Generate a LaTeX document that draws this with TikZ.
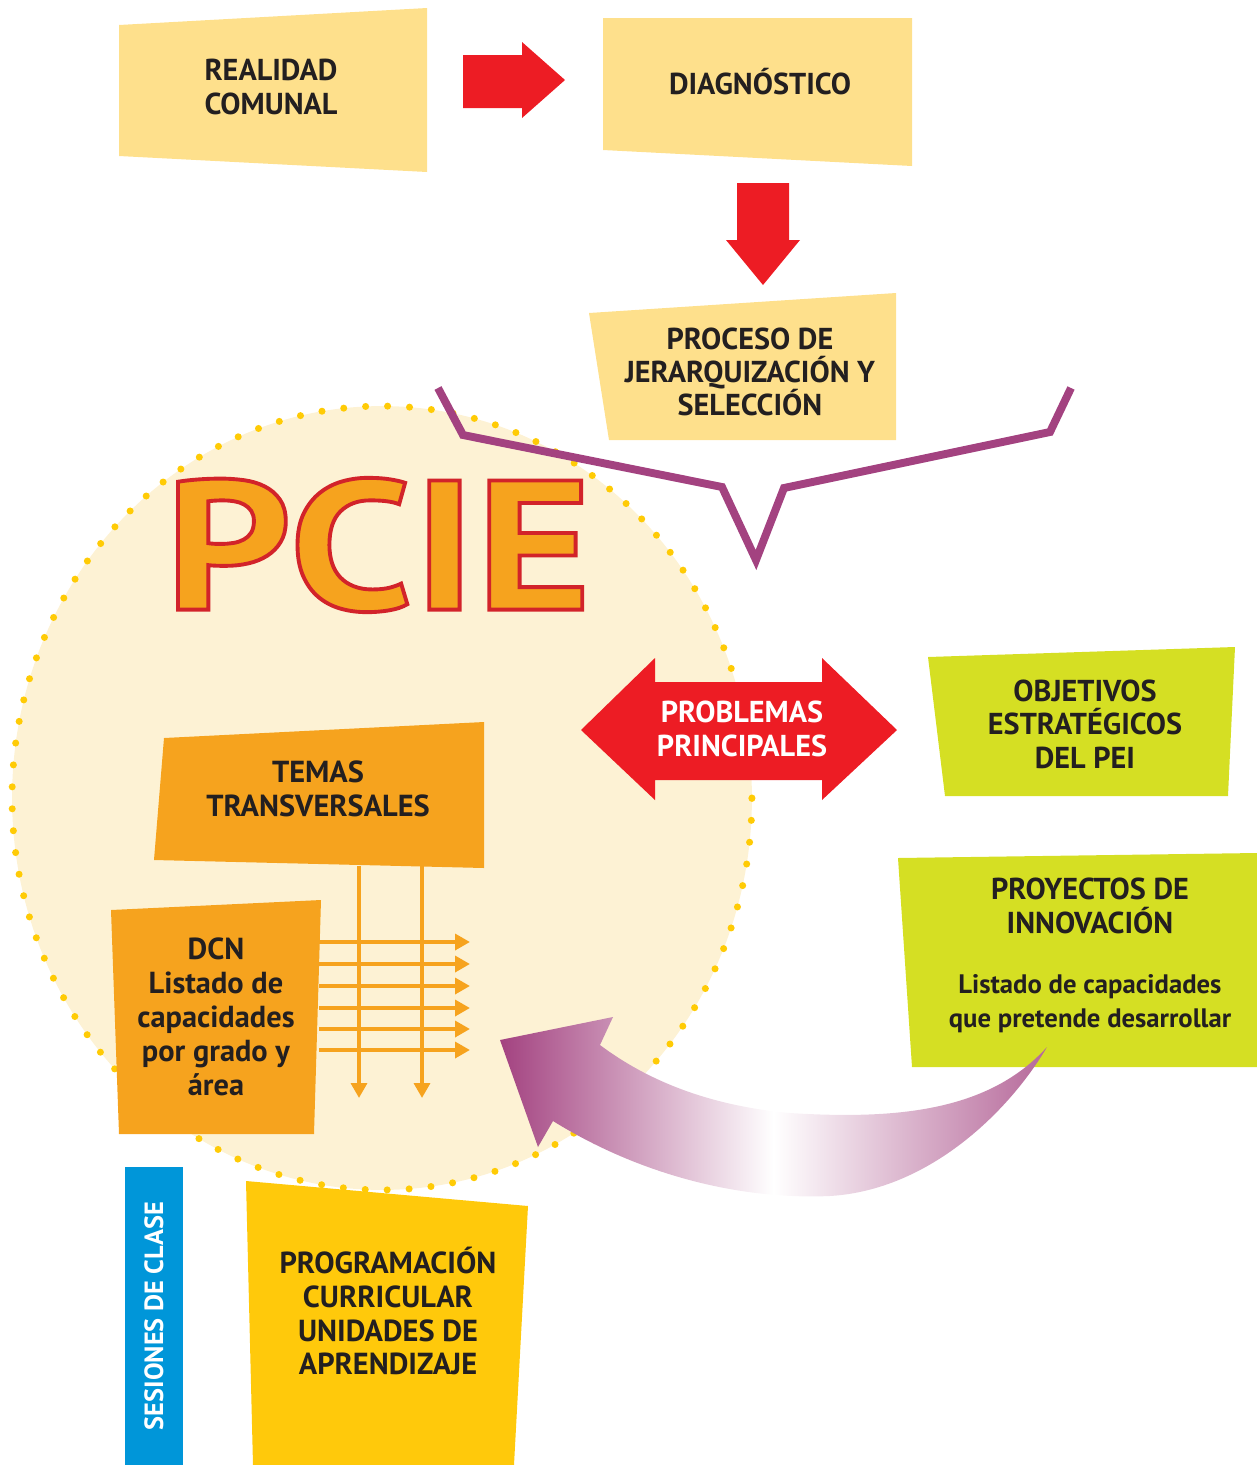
\documentclass[tikz,border=0pt]{standalone}
\usepackage{fontspec}
\setmainfont{PT Sans}
\newfontfamily\pciefont{PT Sans}[FakeStretch=1.2]
\usetikzlibrary{arrows.meta}
\definecolor{lyel}{RGB}{254,224,140}
\definecolor{cream}{RGB}{253,242,212}
\definecolor{dotc}{RGB}{255,203,5}
\definecolor{orng}{RGB}{246,163,30}
\definecolor{redA}{RGB}{237,28,36}
\definecolor{purp}{RGB}{163,66,128}
\definecolor{lime}{RGB}{213,223,35}
\definecolor{gold}{RGB}{255,201,11}
\definecolor{blueS}{RGB}{0,150,217}
\definecolor{txt}{RGB}{35,31,32}
\tikzset{
  lbl/.style={align=center, text=txt, font=\bfseries\fontsize{17.2}{19}\selectfont},
  lbltwo/.style={align=center, text=txt, font=\bfseries\fontsize{17.3}{19.3}\selectfont},
  lblsm/.style={align=center, text=txt, font=\bfseries\fontsize{15.2}{19.3}\selectfont},
  oarrow/.style={draw=orng, line width=2.3pt, -{Triangle[length=8.5pt,width=9pt]}},
  pcietext/.style={font=\pciefont\bfseries\fontsize{105}{110}\selectfont, inner sep=0pt}
}
\begin{document}
\begin{tikzpicture}[x=0.02cm,y=-0.02cm]
\useasboundingbox (0,0) rectangle (1257,1465);
% big dotted ellipse
\draw[fill=cream, draw=dotc, line width=4pt, line cap=round, dash pattern=on 0pt off 12.5pt] (382,798) ellipse [x radius=7.4cm, y radius=7.84cm];
% top boxes
\fill[lyel] (119,25) -- (427,8) -- (427,172) -- (119,156) -- cycle;
\fill[lyel] (603,18) -- (912,18) -- (912,166) -- (603,150) -- cycle;
\fill[lyel] (589,313) -- (896,293) -- (896,440) -- (609,440) -- cycle;
\node[lbl] (realidad) at (271,87) {REALIDAD\\COMUNAL};
\node[lbl] (diag) at (760,82) {DIAGNÓSTICO};
\node[lbl] (proceso) at (750,372) {PROCESO DE\\JERARQUIZACIÓN Y\\SELECCIÓN};
% red arrows
\fill[redA] (463,55) -- (522,55) -- (522,42) -- (565,80) -- (522,118) -- (522,108) -- (463,108) -- cycle;
\fill[redA] (737,183) -- (789,183) -- (789,240) -- (800,240) -- (763,285) -- (726,240) -- (737,240) -- cycle;
% purple brace
\draw[purp, line width=4.5pt] (438,388) -- (463,435) -- (722,487) -- (756,560) -- (784,488) -- (1050,432) -- (1071,388);
% PCIE (fill orange, red outline via text render mode)
\node[pcietext] (pcie) at (378,545) {\color{orng}\special{pdf:literal direct 0.824 0.137 0.165 RG 2 Tr 2.2 w}PCIE\special{pdf:literal direct 0 Tr}};
% double arrow
\fill[redA] (581,730) -- (655,658) -- (655,682) -- (822,682) -- (822,658) -- (897,730) -- (822,800) -- (822,780) -- (655,780) -- (655,800) -- cycle;
\node[lbl, text=white] (probl) at (742,729) {PROBLEMAS\\PRINCIPALES};
% green boxes
\fill[lime] (928,657) -- (1235,647) -- (1228,796) -- (945,796) -- cycle;
\fill[lime] (898,858) -- (1257,853) -- (1257,1067) -- (912,1067) -- cycle;
\node[lbl] (obj) at (1085,724) {OBJETIVOS\\ESTRATÉGICOS\\DEL PEI};
\node[lbl] (proy) at (1090,906) {PROYECTOS DE\\INNOVACIÓN};
\node[lblsm] (listp) at (1090,1004) {Listado de capacidades\\que pretende desarrollar};
% orange boxes
\fill[orng] (164,738) -- (484,722) -- (484,868) -- (154,860) -- cycle;
\fill[orng] (111,910) -- (321,900) -- (314,1134) -- (119,1134) -- cycle;
\node[lbltwo] (temas) at (318,789) {TEMAS\\TRANSVERSALES};
\node[lbltwo] (dcn) at (216,1017) {DCN\\Listado de\\capacidades\\por grado y\\área};
% orange thin arrows
\coordinate (t1) at (359,866);
\coordinate (t2) at (422,866);
\coordinate (b1) at (359,1098);
\coordinate (b2) at (422,1098);
\draw[oarrow] (t1) -- (b1);
\draw[oarrow] (t2) -- (b2);
\foreach \yy [count=\i] in {942,964,986,1008,1029,1050} {
  \coordinate (hs\i) at (319,\yy);
  \coordinate (he\i) at (470,\yy);
  \draw[oarrow] (hs\i) -- (he\i);
}
% curved purple arrow
\shade[left color=purp, right color=purp!80, middle color=white]
  (600,1045) -- (613,1017) -- (500,1040) -- (538,1147) -- (553,1121)
  .. controls (640,1175) and (740,1200) .. (830,1196)
  .. controls (930,1190) and (1010,1110) .. (1047,1047)
  .. controls (990,1110) and (900,1120) .. (790,1113)
  .. controls (700,1105) and (640,1075) .. (600,1045) -- cycle;
% bottom
\fill[blueS] (125,1167) rectangle (183,1465);
\node[lbltwo, text=white, rotate=90, font=\bfseries\fontsize{15}{18}\selectfont] (ses) at (154,1316) {SESIONES DE CLASE};
\fill[gold] (246,1181) -- (528,1206) -- (514,1465) -- (253,1465) -- cycle;
\node[lbltwo] (prog) at (388,1311) {PROGRAMACIÓN\\CURRICULAR\\UNIDADES DE\\APRENDIZAJE};
\end{tikzpicture}
\end{document}
